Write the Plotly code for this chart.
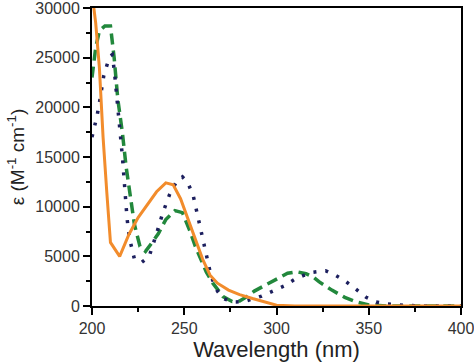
import plotly.graph_objects as go

# Orange (solid)
orange_x = [200, 202, 204, 206, 208, 210, 215, 220, 225, 230, 235, 240, 244, 248, 252, 256, 260, 264, 268, 274, 280, 287, 294, 300, 310, 400]
orange_y = [31500, 28500, 24000, 17000, 11500, 6400, 5000, 7200, 8900, 10200, 11500, 12400, 12200, 10800, 8800, 6700, 4700, 3100, 2300, 1600, 1150, 750, 350, 80, 0, 0]

# Green (dashed)
green_x = [200, 202, 204, 207, 210, 212, 214, 216.5, 218.5, 221, 223, 226, 229, 233, 236, 240, 245, 249, 253, 256, 259, 262, 265.5, 271, 276, 280, 284, 288, 295, 302, 306, 311, 316, 320, 323, 330, 337, 343, 350, 360, 400]
green_y = [23000, 26000, 27700, 28200, 28200, 25000, 20800, 17400, 14000, 10800, 8200, 6000, 5500, 6500, 7300, 8700, 9600, 9400, 7600, 6000, 4600, 3400, 2300, 950, 450, 500, 940, 1500, 2200, 2850, 3300, 3450, 3250, 2900, 2450, 1600, 870, 430, 100, 0, 0]

# Navy (dotted)
navy_x = [200, 202.8, 204.6, 206.4, 209.5, 211, 212.2, 213.5, 215.3, 216.5, 217.5, 219, 220.3, 223, 227, 231, 235, 238.4, 242, 246, 249, 252, 255, 257.3, 260, 262, 264.6, 268, 271, 276, 282, 287, 292, 298, 304, 310, 315, 320, 326.6, 332, 337, 343, 348.6, 354, 360, 370, 380, 400]
navy_y = [17000, 19200, 21100, 23200, 25100, 25300, 23500, 21100, 17400, 15000, 12500, 8800, 6850, 4700, 4400, 5000, 7300, 9400, 11200, 12600, 13000, 12400, 11000, 9000, 6850, 4800, 2950, 1500, 770, 400, 430, 700, 1000, 1500, 2000, 2700, 3100, 3400, 3550, 3100, 2550, 1700, 870, 400, 200, 60, 0, 0]

x_ticks = [200, 250, 300, 350, 400]
x_labels = ["200", "250", "300", "350", "400"]
y_ticks = [0, 5000, 10000, 15000, 20000, 25000, 30000]
y_labels = ["0", "5000", "10000", "15000", "20000", "25000", "30000"]

fig = go.Figure()
fig.add_trace(go.Scatter(x=green_x, y=green_y, mode="lines",
                         line=dict(color="#22883c", width=3.5, dash="11px,6px")))
fig.add_trace(go.Scatter(x=navy_x, y=navy_y, mode="lines",
                         line=dict(color="#1c1f5e", width=3.5, dash="3px,9px")))
fig.add_trace(go.Scatter(x=orange_x, y=orange_y, mode="lines",
                         line=dict(color="#f28c2c", width=3)))

font_fam = "Liberation Sans, Arial"
axis_common = dict(showline=True, linecolor="black", linewidth=2, mirror=True,
                   ticks="outside", ticklen=7, tickwidth=1.5, tickcolor="black",
                   showgrid=False, zeroline=False, automargin=False,
                   ticklabeloverflow="allow",
                   tickfont=dict(family=font_fam, size=16, color="#333"))

fig.update_xaxes(range=[200, 400], tickvals=x_ticks, ticktext=x_labels,
                 minor=dict(ticks="outside", ticklen=4, tickwidth=1.5, tickcolor="black", dtick=25),
                 title=dict(text="Wavelength (nm)", font=dict(family=font_fam, size=22, color="#222"), standoff=4),
                 **axis_common)
fig.update_yaxes(range=[0, 30000], tickvals=y_ticks, ticktext=y_labels,
                 minor=dict(ticks="outside", ticklen=4, tickwidth=1.5, tickcolor="black", dtick=2500),
                 title=dict(text="ε (M<sup>-1</sup> cm<sup>-1</sup>)", font=dict(family=font_fam, size=19, color="#222"), standoff=6),
                 **axis_common)

fig.update_layout(width=474, height=364, showlegend=False,
                  margin=dict(l=92, r=13, t=8, b=58),
                  plot_bgcolor="white", paper_bgcolor="white")
fig.write_html("out.html", config={"displayModeBar": False},
               post_script="document.body.style.margin='0';")
